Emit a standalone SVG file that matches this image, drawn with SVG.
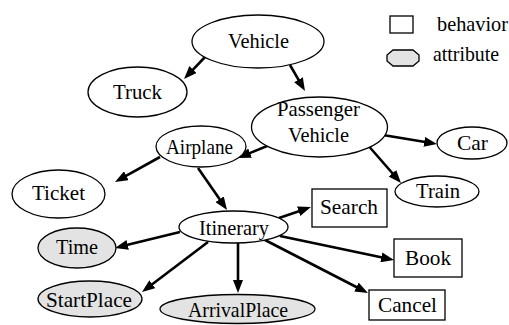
<svg xmlns="http://www.w3.org/2000/svg" width="509" height="325" viewBox="0 0 509 325">
  <style>
    .node { fill: #ffffff; stroke: #000000; stroke-width: 1.3; }
    .attr { fill: #e3e3e3; stroke: #000000; stroke-width: 1.3; }
    .lbl { font-family: "Liberation Serif", "DejaVu Serif", serif; font-size: 22px; fill: #000000; text-anchor: middle; }
    .leg { font-family: "Liberation Serif", "DejaVu Serif", serif; font-size: 21px; fill: #000000; }
    .edge { stroke: #000000; stroke-width: 2.6; fill: none; marker-end: url(#arrow); }
  </style>
  <defs>
    <marker id="arrow" viewBox="0 0 13 10" refX="1" refY="5" markerWidth="13" markerHeight="10" markerUnits="userSpaceOnUse" orient="auto">
      <path d="M0,0 L13,5 L0,10 z" fill="#000000"/>
    </marker>
  </defs>
  <rect width="509" height="325" fill="#ffffff"/>

  <!-- connectors -->
  <g id="edges">
    <line class="edge" x1="205" y1="57" x2="192.3" y2="70.3"/>
    <line class="edge" x1="290" y1="65" x2="299" y2="80.6"/>
    <line class="edge" x1="272" y1="144" x2="249.1" y2="153.4"/>
    <line class="edge" x1="383" y1="135" x2="425.2" y2="142"/>
    <line class="edge" x1="366" y1="143" x2="393.1" y2="174"/>
    <line class="edge" x1="160" y1="157" x2="125.5" y2="176.2"/>
    <line class="edge" x1="198" y1="168" x2="220.2" y2="200.1"/>
    <line class="edge" x1="279" y1="218" x2="299.6" y2="210.9"/>
    <line class="edge" x1="280" y1="236" x2="382.3" y2="257.5"/>
    <line class="edge" x1="265" y1="240" x2="357.3" y2="287.5"/>
    <line class="edge" x1="180" y1="232" x2="126.7" y2="245.1"/>
    <line class="edge" x1="208" y1="242" x2="151.6" y2="284.8"/>
    <line class="edge" x1="238" y1="243" x2="238" y2="281"/>
  </g>

  <!-- behavior / attribute legend -->
  <g id="legend">
    <rect class="node" x="390" y="16" width="23" height="17"/>
    <text class="leg" x="437" y="31" textLength="71" lengthAdjust="spacingAndGlyphs">behavior</text>
    <polygon class="attr" points="393,50 413,50 419,55 419,61 413,66 393,66 387,61 387,55"/>
    <text class="leg" x="433" y="61" textLength="66" lengthAdjust="spacingAndGlyphs">attribute</text>
  </g>

  <g id="vehicle">
    <ellipse class="node" cx="258" cy="41.5" rx="66" ry="26.5"/>
    <text class="lbl" x="258.5" y="48" textLength="61" lengthAdjust="spacingAndGlyphs">Vehicle</text>
  </g>
  <g id="truck">
    <ellipse class="node" cx="137.5" cy="92" rx="49.5" ry="25"/>
    <text class="lbl" x="137.5" y="99" textLength="49" lengthAdjust="spacingAndGlyphs">Truck</text>
  </g>
  <g id="passenger-vehicle">
    <ellipse class="node" cx="319.5" cy="127" rx="68" ry="30"/>
    <text class="lbl" x="318.5" y="116" textLength="83" lengthAdjust="spacingAndGlyphs">Passenger</text>
    <text class="lbl" x="318.5" y="142" textLength="61" lengthAdjust="spacingAndGlyphs">Vehicle</text>
  </g>
  <g id="airplane">
    <ellipse class="node" cx="201" cy="146.5" rx="45" ry="20.5"/>
    <text class="lbl" x="199.5" y="154" textLength="67" lengthAdjust="spacingAndGlyphs">Airplane</text>
  </g>
  <g id="car">
    <ellipse class="node" cx="472" cy="143" rx="35" ry="16"/>
    <text class="lbl" x="472.5" y="150" textLength="31" lengthAdjust="spacingAndGlyphs">Car</text>
  </g>
  <g id="train">
    <ellipse class="node" cx="437" cy="191.5" rx="42" ry="15.5"/>
    <text class="lbl" x="438" y="197.5" textLength="44" lengthAdjust="spacingAndGlyphs">Train</text>
  </g>
  <g id="ticket">
    <ellipse class="node" cx="58.5" cy="194" rx="46.5" ry="24"/>
    <text class="lbl" x="58.5" y="200" textLength="53" lengthAdjust="spacingAndGlyphs">Ticket</text>
  </g>
  <g id="itinerary">
    <ellipse class="node" cx="233.5" cy="227" rx="54.5" ry="16"/>
    <text class="lbl" x="234" y="235" textLength="70" lengthAdjust="spacingAndGlyphs">Itinerary</text>
  </g>
  <g id="search">
    <rect class="node" x="312" y="189" width="75" height="38"/>
    <text class="lbl" x="349" y="214" textLength="58" lengthAdjust="spacingAndGlyphs">Search</text>
  </g>
  <g id="book">
    <rect class="node" x="394" y="239" width="68" height="38"/>
    <text class="lbl" x="428" y="265" textLength="46" lengthAdjust="spacingAndGlyphs">Book</text>
  </g>
  <g id="cancel">
    <rect class="node" x="369" y="290" width="76" height="30"/>
    <text class="lbl" x="407.5" y="312" textLength="59" lengthAdjust="spacingAndGlyphs">Cancel</text>
  </g>
  <g id="time">
    <ellipse class="attr" cx="77" cy="248" rx="39" ry="20"/>
    <text class="lbl" x="77" y="254" textLength="42" lengthAdjust="spacingAndGlyphs">Time</text>
  </g>
  <g id="start-place">
    <ellipse class="attr" cx="90" cy="299" rx="52" ry="18"/>
    <text class="lbl" x="89" y="307" textLength="86" lengthAdjust="spacingAndGlyphs">StartPlace</text>
  </g>
  <g id="arrival-place">
    <ellipse class="attr" cx="237.5" cy="309" rx="77.5" ry="14.5"/>
    <text class="lbl" x="238" y="317" textLength="100" lengthAdjust="spacingAndGlyphs">ArrivalPlace</text>
  </g>
</svg>
